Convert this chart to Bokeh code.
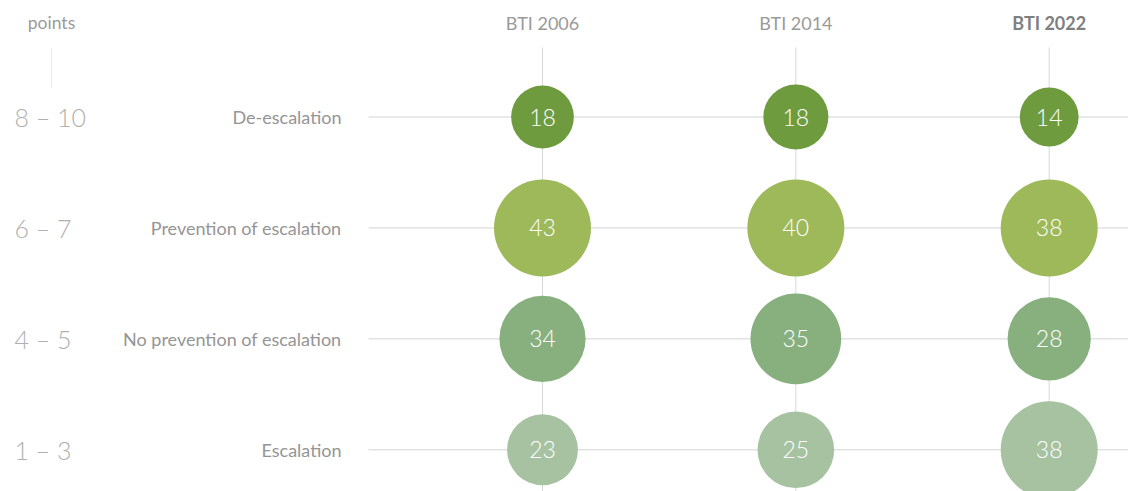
import math
from bokeh.plotting import figure
from bokeh.models import Range1d, ColumnDataSource
from bokeh.core.properties import value
from bokeh.embed import file_html
from bokeh.resources import INLINE

# ---- data ----
columns = ["BTI 2006", "BTI 2014", "BTI 2022"]
categories = ["De-escalation", "Prevention of escalation", "No prevention of escalation", "Escalation"]
point_ranges = ["8 \u2013 10", "6 \u2013 7", "4 \u2013 5", "1 \u2013 3"]
bti_2006 = [18, 43, 34, 23]
bti_2014 = [18, 40, 35, 25]
bti_2022 = [14, 38, 28, 38]
unit_label = "points"

# ---- styles ----
row_colors = ["#6f9b3f", "#9db95a", "#87b07e", "#a6c2a1"]
FONT = "Lato"
LIGHT_FONT = "'Lato Light', Lato"
MAX_D = 97.0

# ---- layout (screen pixels) ----
FRAME_W, FRAME_H, OFF = 1128, 491, 0
X0_PX, X2_PX = 542.0, 1048.7
Y0_PX, Y3_PX = 116.5, 449.3
sx = (X2_PX - X0_PX) / 2.0
sy = (Y3_PX - Y0_PX) / 3.0
x_start = -(X0_PX - OFF) / sx
x_end = x_start + FRAME_W / sx
y_top = -(Y0_PX - OFF) / sy
y_bottom = y_top + FRAME_H / sy

def xd(px):
    return x_start + (px - OFF) / sx

def yd(py):
    return y_top + (py - OFF) / sy

p = figure(width=FRAME_W, height=FRAME_H, output_backend="svg", toolbar_location=None,
           x_range=Range1d(x_start, x_end), y_range=Range1d(y_bottom, y_top),
           min_border=0, min_border_left=0, min_border_right=0, min_border_top=0, min_border_bottom=0)
p.axis.visible = False
p.grid.visible = False
p.outline_line_color = None
p.background_fill_color = "white"
p.border_fill_color = "white"

rows = list(range(len(categories)))
cols = list(range(len(columns)))

# horizontal row lines
p.segment(x0=[xd(368)] * len(rows), x1=[x_end] * len(rows), y0=rows, y1=rows,
          line_color="#d4d4d4", line_width=1)
# vertical column lines
p.segment(x0=cols, x1=cols, y0=[yd(47)] * len(cols), y1=[y_bottom] * len(cols),
          line_color="#d9d9d9", line_width=1)
# faint line under "points"
p.segment(x0=[xd(51)], x1=[xd(51)], y0=[yd(47)], y1=[yd(88)], line_color="#ececec", line_width=1)

# bubbles
series = [bti_2006, bti_2014, bti_2022]
xs, ys, sizes, colors, labels = [], [], [], [], []
for ci, s in enumerate(series):
    m = max(s)
    for ri, v in enumerate(s):
        xs.append(ci)
        ys.append(ri)
        sizes.append(MAX_D * math.sqrt(v / m))
        colors.append(row_colors[ri])
        labels.append(str(v))
src = ColumnDataSource(dict(x=xs, y=ys, size=sizes, color=colors, label=labels))
p.scatter(x="x", y="y", size="size", fill_color="color", line_color=None, source=src)
p.text(x="x", y="y", text="label", source=src, text_color="white", text_font=value(LIGHT_FONT),
       text_font_size="23px", text_align="center", text_baseline="middle")

# column headers
p.text(x=cols[:2], y=[yd(22)] * 2, text=columns[:2], text_color="#9a9a9a", text_font=value(FONT),
       text_font_size="18px", text_align="center", text_baseline="middle")
p.text(x=[cols[2]], y=[yd(22)], text=[columns[2]], text_color="#7f7f7f", text_font=value(FONT),
       text_font_size="18px", text_font_style="bold", text_align="center", text_baseline="middle")

# unit label
p.text(x=[xd(51)], y=[yd(22)], text=[unit_label], text_color="#9a9a9a", text_font=value(FONT),
       text_font_size="17.5px", text_align="center", text_baseline="middle")

# point range labels
p.text(x=[xd(14)] * len(rows), y=rows, text=point_ranges, text_color="#b0b0b0", text_font=value(LIGHT_FONT),
       text_font_size="25px", text_align="left", text_baseline="middle")

# category labels
p.text(x=[xd(341)] * len(rows), y=rows, text=categories, text_color="#959595", text_font=value(FONT),
       text_font_size="18px", text_align="right", text_baseline="middle")

open("out.html", "w").write(file_html(p, INLINE))
